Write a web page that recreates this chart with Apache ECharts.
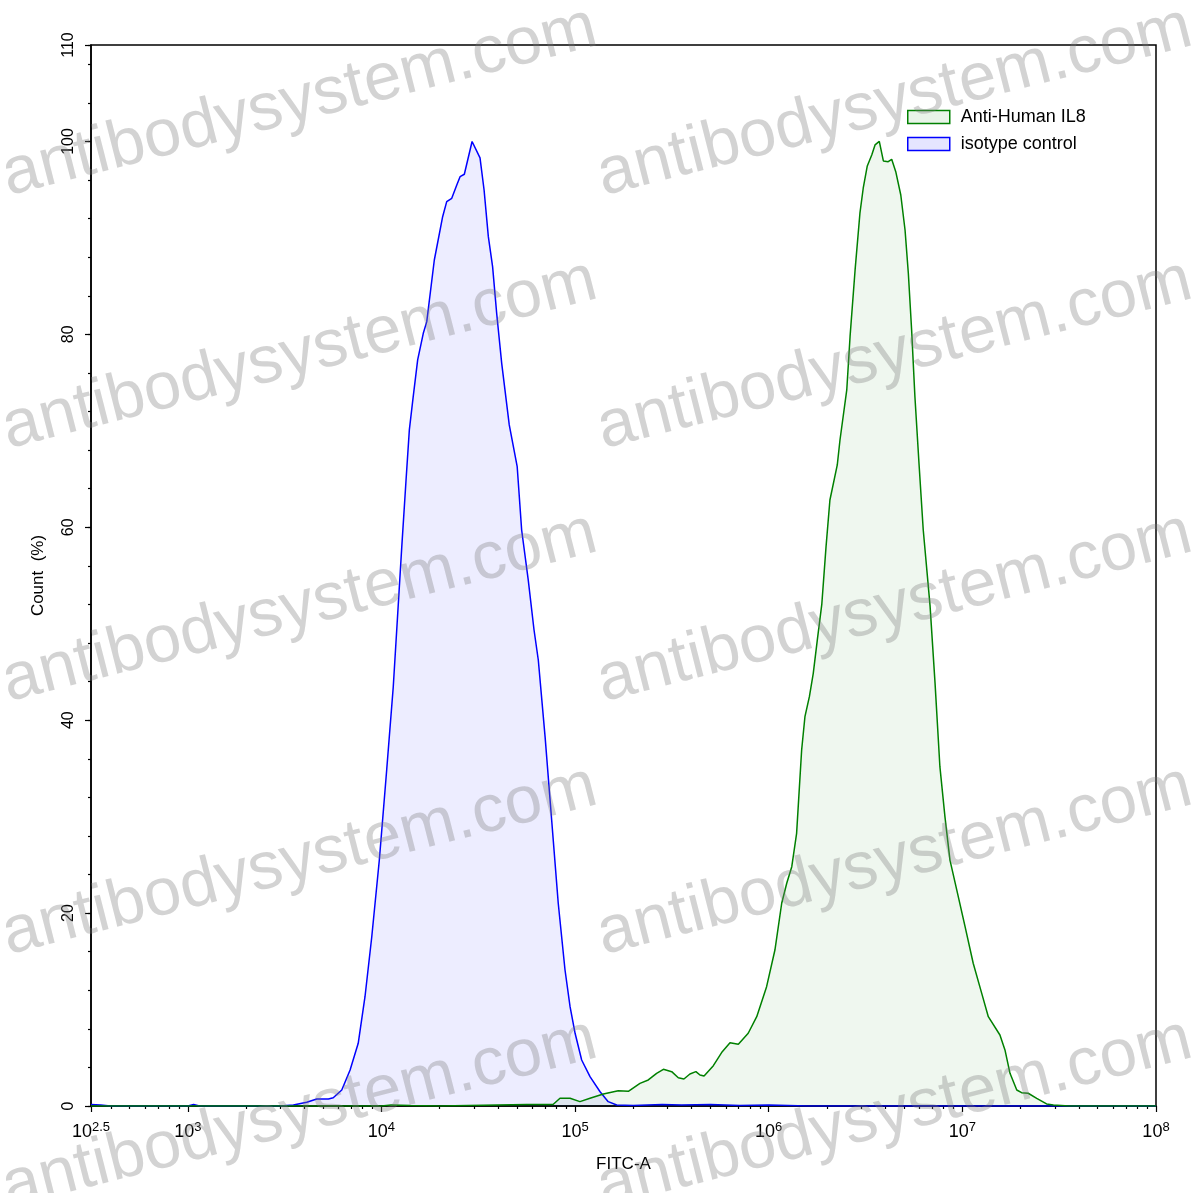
<!DOCTYPE html>
<html>
<head>
<meta charset="utf-8">
<script src="https://cdn.jsdelivr.net/npm/echarts@6/dist/echarts.min.js"></script>
<style>
html, body { margin: 0; padding: 0; background: #fff; }
#chart { width: 1197px; height: 1193px; }
</style>
</head>
<body>
<div id="chart"></div>
<script>
// ---- data (x given as log10 of FITC-A intensity, y as Count %) ----
const seriesNames = ['Anti-Human IL8', 'isotype control'];

const isotypeLogX = [2.50, 2.55, 2.60, 3.00, 3.03, 3.06, 3.40, 3.476, 3.545, 3.614, 3.666, 3.726, 3.751, 3.795, 3.838, 3.880, 3.915, 3.950, 3.989, 4.027, 4.061, 4.082, 4.105, 4.127, 4.144, 4.164, 4.187, 4.216, 4.234, 4.273, 4.316, 4.337, 4.363, 4.389, 4.406, 4.428, 4.468, 4.509, 4.530, 4.552, 4.574, 4.595, 4.621, 4.660, 4.701, 4.724, 4.758, 4.788, 4.810, 4.845, 4.879, 4.913, 4.948, 4.974, 5.000, 5.034, 5.077, 5.129, 5.171, 5.215, 5.30, 5.45, 5.55, 5.70, 5.85, 6.00, 6.20, 8.00];
const isotypeCount = [0.15, 0.1, 0, 0, 0.15, 0, 0, 0, 0.1, 0.38, 0.73, 0.73, 0.86, 1.66, 3.73, 6.5, 11.33, 17.55, 25.5, 34.84, 43.47, 50.39, 57.99, 64.9, 70.09, 73.54, 77.35, 80.11, 81.32, 87.71, 92.2, 93.76, 94.11, 95.49, 96.35, 96.6, 100, 98.29, 94.97, 90.13, 87.02, 82.19, 77.0, 70.61, 66.28, 59.72, 54.54, 49.35, 46.24, 38.29, 29.65, 21.02, 14.1, 10.3, 7.54, 4.77, 3.04, 1.48, 0.45, 0.1, 0.05, 0.15, 0.1, 0.15, 0.05, 0.1, 0, 0];

const il8LogX = [2.50, 4.00, 4.05, 4.15, 4.30, 4.60, 4.75, 4.886, 4.922, 4.974, 5.025, 5.077, 5.146, 5.223, 5.275, 5.335, 5.378, 5.421, 5.456, 5.499, 5.533, 5.562, 5.593, 5.624, 5.645, 5.666, 5.714, 5.760, 5.800, 5.843, 5.894, 5.938, 5.989, 6.032, 6.067, 6.093, 6.119, 6.144, 6.170, 6.187, 6.210, 6.230, 6.251, 6.274, 6.296, 6.316, 6.354, 6.368, 6.403, 6.420, 6.446, 6.471, 6.488, 6.509, 6.532, 6.549, 6.571, 6.592, 6.617, 6.635, 6.656, 6.682, 6.704, 6.721, 6.738, 6.755, 6.776, 6.798, 6.833, 6.859, 6.884, 6.910, 6.936, 6.971, 7.014, 7.056, 7.100, 7.134, 7.194, 7.220, 7.246, 7.281, 7.306, 7.340, 7.384, 7.435, 7.470, 7.550, 8.00];
const il8Count = [0, 0, 0.1, 0.05, 0, 0.1, 0.15, 0.15, 0.8, 0.8, 0.45, 0.8, 1.24, 1.59, 1.52, 2.35, 2.7, 3.39, 3.8, 3.56, 2.93, 2.8, 3.32, 3.56, 3.21, 3.11, 4.18, 5.63, 6.56, 6.4, 7.54, 9.26, 12.37, 16.17, 21.02, 23.09, 24.81, 28.27, 36.91, 40.36, 42.44, 44.86, 48.32, 52.0, 57.99, 62.83, 66.46, 69.05, 74.24, 79.76, 86.68, 92.56, 95.15, 97.46, 98.6, 99.64, 100, 97.98, 97.9, 98.15, 96.87, 94.45, 90.82, 86.33, 80.46, 73.54, 66.64, 59.72, 51.9, 43.82, 35.18, 30.0, 25.5, 22.4, 18.59, 14.8, 11.68, 9.26, 7.36, 5.81, 3.39, 1.66, 1.38, 1.32, 0.8, 0.21, 0.1, 0, 0];

// tick labels: exponent of 10
const xTickExponents = ['2.5', '3', '4', '5', '6', '7', '8'];
const yLabelValues = [0, 20, 40, 60, 80, 100, 110];
const watermarkText = 'antibodysystem.com';

// ---- build ----
const xMajor = xTickExponents.map(Number);
const xMinor = [];
for (let n = 2; n < 8; n++) {
  for (let k = 2; k <= 9; k++) {
    const v = n + Math.log10(k);
    if (v > 2.5 && v < 8) xMinor.push(v);
  }
}
const zip = (xs, ys) => xs.map((x, i) => [x, ys[i]]);

const FONT = "'Liberation Sans', Arial, Helvetica, sans-serif";
const wmRowsY = [210, 463, 716, 969, 1222];
const wmColsX = [12, 607];
const graphics = [];
wmRowsY.forEach(y => wmColsX.forEach(x => {
  graphics.push({
    type: 'text', x: x, y: y, rotation: 0.25, z: 100, silent: true,
    style: {
      text: watermarkText, fontSize: 67, fontFamily: FONT,
      fill: 'rgba(120,120,120,0.33)', textAlign: 'left', textVerticalAlign: 'bottom'
    }
  });
}));

const chart = echarts.init(document.getElementById('chart'), null, { renderer: 'canvas' });
chart.setOption({
  animation: false,
  backgroundColor: '#fff',
  textStyle: { fontFamily: FONT, color: '#000' },
  grid: {
    left: 91, right: 41, top: 45, bottom: 87,
    show: true, borderColor: '#000', borderWidth: 1.5, backgroundColor: 'transparent'
  },
  legend: {
    orient: 'vertical', left: 907, top: 108, itemGap: 9, padding: 0,
    itemWidth: 42, itemHeight: 13,
    textStyle: { fontSize: 18, color: '#000', fontFamily: FONT, padding: [0, 0, 0, 6] },
    data: [
      { name: seriesNames[0], icon: 'rect',
        itemStyle: { color: 'rgba(0,128,0,0.09)', borderColor: '#008000', borderWidth: 1.5 } },
      { name: seriesNames[1], icon: 'rect',
        itemStyle: { color: 'rgba(0,0,255,0.1)', borderColor: '#0000ff', borderWidth: 1.5 } }
    ]
  },
  xAxis: [
    {
      type: 'value', min: 2.5, max: 8, position: 'bottom',
      name: 'FITC-A', nameLocation: 'middle', nameGap: 50,
      nameTextStyle: { fontSize: 17, color: '#000', fontFamily: FONT },
      axisLine: { show: true, lineStyle: { color: '#000', width: 1.5 } },
      axisTick: { show: true, length: 6, customValues: xMajor, lineStyle: { color: '#000', width: 1.2 } },
      splitLine: { show: false },
      axisLabel: {
        customValues: xMajor, margin: 15, color: '#000',
        formatter: v => {
          const s = (Math.round(v * 10) / 10).toString();
          return '{b|10}{s|' + s + '}';
        },
        rich: {
          b: { fontSize: 18, lineHeight: 22, verticalAlign: 'middle', fontFamily: FONT, color: '#000' },
          s: { fontSize: 13, lineHeight: 10, verticalAlign: 'top', fontFamily: FONT, color: '#000' }
        }
      }
    },
    {
      type: 'value', min: 2.5, max: 8, position: 'bottom', offset: 0,
      axisLine: { show: false },
      axisTick: { show: true, length: 3, customValues: xMinor, lineStyle: { color: '#000', width: 1.2 } },
      axisLabel: { show: false },
      splitLine: { show: false }
    }
  ],
  yAxis: [
    {
      type: 'value', min: 0, max: 110, interval: 4, position: 'left', offset: 0,
      axisLine: { show: true, lineStyle: { color: '#000', width: 1.5 } },
      axisTick: { show: true, length: 3, lineStyle: { color: '#000', width: 1.2 } },
      axisLabel: { show: false },
      splitLine: { show: false }
    },
    {
      type: 'value', min: 0, max: 110, interval: 20, position: 'left', offset: 0,
      name: 'Count  (%)', nameLocation: 'middle', nameGap: 44,
      nameTextStyle: { fontSize: 17, color: '#000', fontFamily: FONT },
      axisLine: { show: false },
      axisTick: { show: true, length: 6, lineStyle: { color: '#000', width: 1.2 } },
      axisLabel: {
        show: true, rotate: 90, margin: 14, fontSize: 16, color: '#000', fontFamily: FONT,
        formatter: v => (yLabelValues.indexOf(v) >= 0 ? String(v) : '')
      },
      splitLine: { show: false }
    }
  ],
  series: [
    {
      name: seriesNames[0], type: 'line', xAxisIndex: 0, yAxisIndex: 1,
      data: zip(il8LogX, il8Count), showSymbol: false, smooth: false,
      lineStyle: { color: '#008000', width: 1.5 },
      itemStyle: { color: '#008000' },
      areaStyle: { color: 'rgba(0,128,0,0.09)' },
      z: 3
    },
    {
      name: seriesNames[1], type: 'line', xAxisIndex: 0, yAxisIndex: 1,
      data: zip(isotypeLogX, isotypeCount), showSymbol: false, smooth: false,
      lineStyle: { color: '#0000ff', width: 1.5 },
      itemStyle: { color: '#0000ff' },
      areaStyle: { color: 'rgba(0,0,255,0.1)' },
      z: 2
    }
  ],
  graphic: graphics
});
</script>
</body>
</html>
